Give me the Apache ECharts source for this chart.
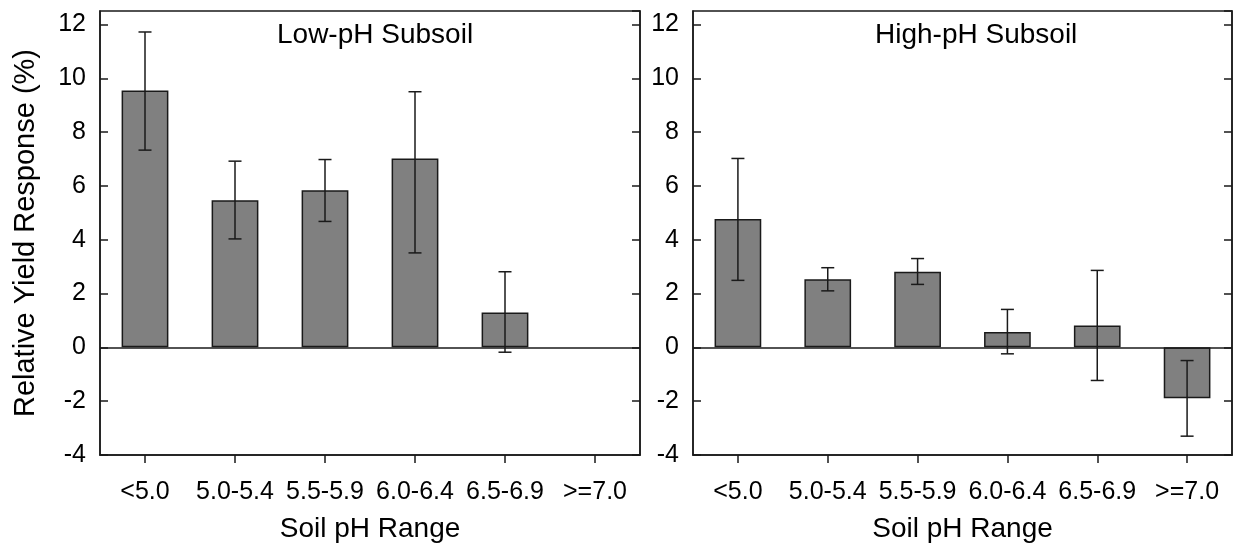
<!DOCTYPE html>
<html>
<head>
<meta charset="utf-8">
<script src="https://cdn.jsdelivr.net/npm/echarts@6/dist/echarts.min.js"></script>
<style>
  html, body { margin: 0; padding: 0; background: #fff; }
  #chart { width: 1243px; height: 548px; }
</style>
</head>
<body>
<div id="chart"></div>
<script>
const categories = ['<5.0', '5.0-5.4', '5.5-5.9', '6.0-6.4', '6.5-6.9', '>=7.0'];
const yTicks = [-4, 12.5, 2]; // min, max, step

// Low-pH subsoil (left)
const lowMean = [9.55, 5.47, 5.84, 7.02, 1.30, null];
const lowUpper = [11.72, 6.92, 6.98, 9.50, 2.81, null];
const lowLower = [7.33, 4.03, 4.68, 3.51, -0.18, null];

// High-pH subsoil (right)
const highMean = [4.77, 2.53, 2.81, 0.57, 0.81, -1.89];
const highUpper = [7.02, 2.96, 3.30, 1.41, 2.86, -0.49];
const highLower = [2.49, 2.10, 2.34, -0.24, -1.23, -3.30];

const FONT = "'Liberation Sans', Arial, sans-serif";
const INK = '#1a1a1a';

const chart = echarts.init(document.getElementById('chart'));

function errData(lo, hi) {
  return lo.map((v, i) => v == null ? null : [i, v, hi[i]]).filter(d => d);
}

function errSeries(idx, data) {
  return {
    type: 'custom',
    xAxisIndex: idx, yAxisIndex: idx * 2,
    data: data,
    encode: { x: 0, y: [1, 2] },
    z: 5,
    renderItem: function (params, api) {
      const lo = api.coord([api.value(0), api.value(1)]);
      const hi = api.coord([api.value(0), api.value(2)]);
      const cap = 6.5;
      const st = { stroke: INK, lineWidth: 1.5 };
      return {
        type: 'group',
        children: [
          { type: 'line', shape: { x1: lo[0], y1: lo[1], x2: hi[0], y2: hi[1] }, style: st },
          { type: 'line', shape: { x1: hi[0] - cap, y1: hi[1], x2: hi[0] + cap, y2: hi[1] }, style: st },
          { type: 'line', shape: { x1: lo[0] - cap, y1: lo[1], x2: lo[0] + cap, y2: lo[1] }, style: st }
        ]
      };
    }
  };
}

function barSeries(idx, data) {
  return {
    type: 'bar',
    xAxisIndex: idx, yAxisIndex: idx * 2,
    data: data.map(v => v == null ? '-' : v),
    barWidth: '52%',
    itemStyle: { color: '#808080', borderColor: INK, borderWidth: 1.5 },
    markLine: {
      silent: true, symbol: 'none', animation: false,
      label: { show: false },
      lineStyle: { color: INK, width: 1.5, type: 'solid' },
      data: [{ yAxis: 0 }]
    }
  };
}

function yAxes(idx, withName) {
  const base = {
    type: 'value', gridIndex: idx,
    min: yTicks[0], max: yTicks[1], interval: yTicks[2],
    splitLine: { show: false },
    axisLine: { show: true, lineStyle: { color: INK, width: 1.5 } },
    axisTick: { show: true, inside: true, length: 8, lineStyle: { color: INK, width: 1.5 } }
  };
  return [
    Object.assign({}, base, {
      position: 'left',
      axisLabel: { color: '#000', fontSize: 25, fontFamily: FONT, margin: 14, showMaxLabel: false },
      name: withName ? 'Relative Yield Response (%)' : '',
      nameLocation: 'middle', nameGap: 60,
      nameTextStyle: { color: '#000', fontSize: 29, fontFamily: FONT }
    }),
    Object.assign({}, base, {
      position: 'right',
      axisLabel: { show: false }
    })
  ];
}

function xAxis(idx) {
  return {
    type: 'category', gridIndex: idx, data: categories,
    position: 'bottom',
    axisLine: { show: true, onZero: false, lineStyle: { color: INK, width: 1.5 } },
    axisTick: { show: true, alignWithLabel: true, length: 8, lineStyle: { color: INK, width: 1.5 } },
    axisLabel: { color: '#000', fontSize: 25, fontFamily: FONT, margin: 25, interval: 0 },
    name: 'Soil pH Range', nameLocation: 'middle', nameGap: 60,
    nameTextStyle: { color: '#000', fontSize: 28, fontFamily: FONT }
  };
}

chart.setOption({
  animation: false,
  title: [
    { text: 'Low-pH Subsoil', left: 272, top: 16, textStyle: { fontSize: 28, fontWeight: 'normal', color: '#000', fontFamily: FONT } },
    { text: 'High-pH Subsoil', left: 870, top: 16, textStyle: { fontSize: 28, fontWeight: 'normal', color: '#000', fontFamily: FONT } }
  ],
  grid: [
    { left: 100, top: 11, width: 540, height: 451, show: true, borderColor: INK, borderWidth: 1.5, backgroundColor: 'transparent' },
    { left: 693, top: 11, width: 539, height: 451, show: true, borderColor: INK, borderWidth: 1.5, backgroundColor: 'transparent' }
  ],
  xAxis: [xAxis(0), xAxis(1)],
  yAxis: [...yAxes(0, true), ...yAxes(1, false)],
  series: [
    barSeries(0, lowMean),
    errSeries(0, errData(lowLower, lowUpper)),
    barSeries(1, highMean),
    errSeries(1, errData(highLower, highUpper))
  ]
});
</script>
</body>
</html>
